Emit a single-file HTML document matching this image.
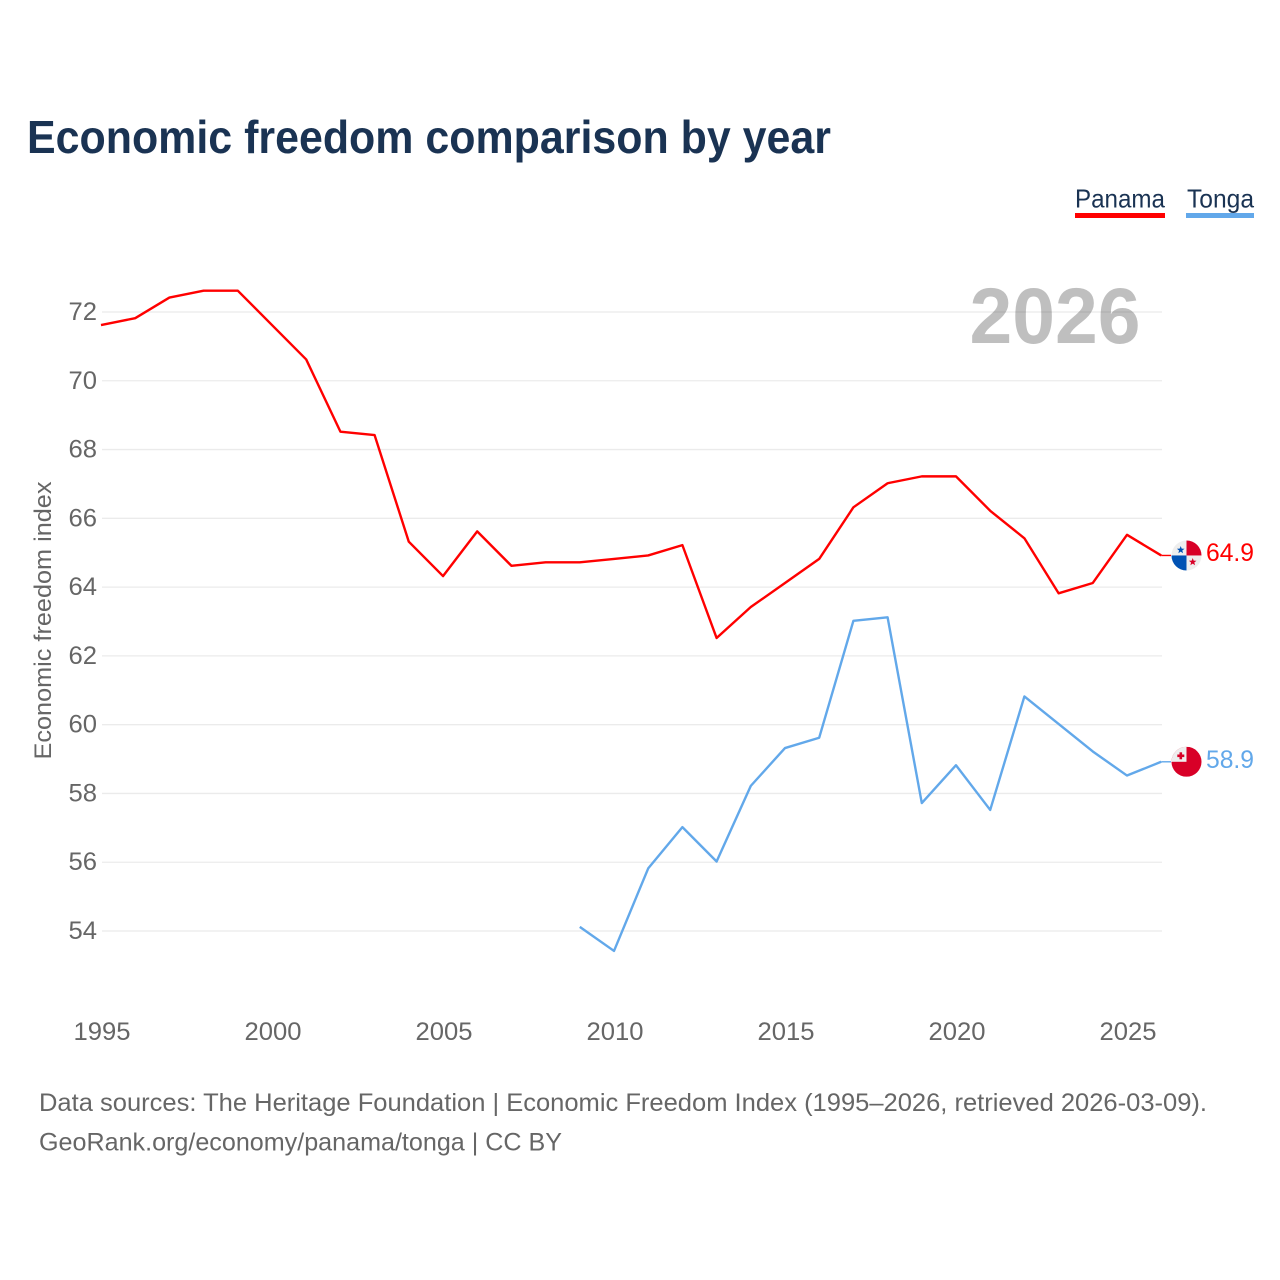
<!DOCTYPE html>
<html lang="en">
<head>
<meta charset="utf-8">
<title>Economic freedom comparison by year</title>
<style>
html,body{margin:0;padding:0;background:#fff;width:1280px;height:1280px;overflow:hidden}
svg{display:block}
text{font-family:"Liberation Sans",sans-serif}
</style>
</head>
<body>
<svg id="chart" width="1280" height="1280" viewBox="0 0 1280 1280" xmlns="http://www.w3.org/2000/svg">
  <defs>
    <clipPath id="flag-clip"><circle cx="0" cy="0" r="15"/></clipPath>
  </defs>
  <text x="27" y="153" font-size="46" font-weight="700" fill="#1a3353" textLength="804" lengthAdjust="spacingAndGlyphs">Economic freedom comparison by year</text>

  <g>
    <text x="1075" y="207.5" font-size="26" fill="#1a3353" textLength="90" lengthAdjust="spacingAndGlyphs">Panama</text>
    <rect x="1075" y="213" width="90" height="5" fill="#ff0000"/>
  </g>
  <g>
    <text x="1187" y="207.5" font-size="26" fill="#1a3353" textLength="67" lengthAdjust="spacingAndGlyphs">Tonga</text>
    <rect x="1186" y="213" width="68" height="5" fill="#62a8ea"/>
  </g>

  <g id="grid"></g>
  <g id="y-ticks"></g>
  <g id="x-ticks"></g>

  <text x="1140.5" y="343" text-anchor="end" font-size="79" font-weight="700" fill="#000000" fill-opacity="0.25" textLength="171" lengthAdjust="spacingAndGlyphs">2026</text>

  <text transform="translate(51 620.5) rotate(-90)" text-anchor="middle" font-size="24" fill="#666666" textLength="278" lengthAdjust="spacingAndGlyphs">Economic freedom index</text>

  <g id="series" transform="translate(-1 -0.7)"></g>
  <g id="end-markers"></g>

  <text x="39" y="1111" font-size="25" fill="#666666" textLength="1168" lengthAdjust="spacingAndGlyphs">Data sources: The Heritage Foundation | Economic Freedom Index (1995–2026, retrieved 2026-03-09).</text>
  <text x="39" y="1150.5" font-size="25" fill="#666666" textLength="523" lengthAdjust="spacingAndGlyphs">GeoRank.org/economy/panama/tonga | CC BY</text>
</svg>
<script>
var years = [1995,1996,1997,1998,1999,2000,2001,2002,2003,2004,2005,2006,2007,2008,2009,2010,2011,2012,2013,2014,2015,2016,2017,2018,2019,2020,2021,2022,2023,2024,2025,2026];
var panamaValues = [71.6,71.8,72.4,72.6,72.6,71.6,70.6,68.5,68.4,65.3,64.3,65.6,64.6,64.7,64.7,64.8,64.9,65.2,62.5,63.4,64.1,64.8,66.3,67.0,67.2,67.2,66.2,65.4,63.8,64.1,65.5,64.9];
var tongaValues = [null,null,null,null,null,null,null,null,null,null,null,null,null,null,54.1,53.4,55.8,57.0,56.0,58.2,59.3,59.6,63.0,63.1,57.7,58.8,57.5,60.8,60.0,59.2,58.5,58.9];
var yTickLabels = [54,56,58,60,62,64,66,68,70,72];
var xTickLabels = [1995,2000,2005,2010,2015,2020,2025];

var NS = 'http://www.w3.org/2000/svg';
function xScale(year){ return 102 + (year - 1995) * (1128 - 102) / 30; }
function yScale(v){ return 931 - (v - 54) * (931 - 312) / 18; }
function make(tag, attrs, parent){
  var el = document.createElementNS(NS, tag);
  for (var k in attrs) el.setAttribute(k, attrs[k]);
  parent.appendChild(el);
  return el;
}

var grid = document.getElementById('grid');
var yTicks = document.getElementById('y-ticks');
yTickLabels.forEach(function(t){
  var line = make('line', {x1:102, x2:1162, y1:yScale(t), y2:yScale(t), stroke:'#ebebeb', 'stroke-width':1.3}, grid);
  
  
  var label = make('text', {x:97, y:yScale(t) + 8, 'text-anchor':'end', 'font-size':25, fill:'#666666', textLength:28.5, lengthAdjust:'spacingAndGlyphs'}, yTicks);
  
  
  label.textContent = t;
});

var xTicks = document.getElementById('x-ticks');
xTickLabels.forEach(function(t){
  var label = make('text', {x:xScale(t), y:1040, 'text-anchor':'middle', 'font-size':25, fill:'#666666', textLength:57, lengthAdjust:'spacingAndGlyphs'}, xTicks);
  
  
  label.textContent = t;
});

function pathFor(values){
  var pts = [];
  values.forEach(function(v, i){
    if (v !== null) pts.push(xScale(years[i]).toFixed(2) + ',' + yScale(v).toFixed(2));
  });
  return 'M' + pts.join('L');
}

var seriesGroup = document.getElementById('series');
var panamaLine = make('path', {d:pathFor(panamaValues), fill:'none', stroke:'#ff0000', 'stroke-width':2.4, 'stroke-linejoin':'round'}, seriesGroup);


var tongaLine = make('path', {d:pathFor(tongaValues), fill:'none', stroke:'#62a8ea', 'stroke-width':2.4, 'stroke-linejoin':'round'}, seriesGroup);



var markers = document.getElementById('end-markers');
function star(cx, cy, r, fill, parent){
  var p = [];
  for (var i = 0; i < 10; i++){
    var a = -Math.PI / 2 + i * Math.PI / 5;
    var rr = i % 2 ? r * 0.42 : r;
    p.push((cx + rr * Math.cos(a)).toFixed(2) + ',' + (cy + rr * Math.sin(a)).toFixed(2));
  }
  return make('polygon', {points:p.join(' '), fill:fill}, parent);
}

// Panama end marker
var panamaEnd = panamaValues[panamaValues.length - 1];
var py = yScale(panamaEnd) - 0.7;
var lastX = xScale(2026) - 1;
var pConn = make('line', {x1:lastX, x2:1171, y1:py, y2:py, stroke:'#ff0000', 'stroke-width':1.4}, markers);


var pFlag = make('g', {transform:'translate(1186.5 ' + py + ')', 'clip-path':'url(#flag-clip)'}, markers);


make('rect', {x:-15, y:-15, width:30, height:30, fill:'#eeeeee'}, pFlag);
make('rect', {x:0, y:-15, width:15, height:15, fill:'#d80027'}, pFlag);
make('rect', {x:-15, y:0, width:15, height:15, fill:'#0052b4'}, pFlag);
star(-5.8, -5.5, 4, '#0052b4', pFlag);
star(6.2, 6.5, 4, '#d80027', pFlag);
var pLabel = make('text', {x:1206, y:py + 5.7, 'font-size':25, fill:'#ff0000', textLength:48, lengthAdjust:'spacingAndGlyphs'}, markers);


pLabel.textContent = panamaEnd.toFixed(1);

// Tonga end marker
var tongaEnd = tongaValues[tongaValues.length - 1];
var ty = yScale(tongaEnd) - 0.7;
var tConn = make('line', {x1:lastX, x2:1171, y1:ty, y2:ty, stroke:'#62a8ea', 'stroke-width':1.4}, markers);


var tFlag = make('g', {transform:'translate(1186.5 ' + ty + ')', 'clip-path':'url(#flag-clip)'}, markers);


make('rect', {x:-15, y:-15, width:30, height:30, fill:'#d80027'}, tFlag);
make('rect', {x:-15, y:-15, width:15, height:15, fill:'#eeeeee'}, tFlag);
make('rect', {x:-7, y:-9.5, width:2.6, height:7, fill:'#d80027'}, tFlag);
make('rect', {x:-9.2, y:-7.3, width:7, height:2.6, fill:'#d80027'}, tFlag);
var tLabel = make('text', {x:1206, y:ty + 6.2, 'font-size':25, fill:'#62a8ea', textLength:48, lengthAdjust:'spacingAndGlyphs'}, markers);


tLabel.textContent = tongaEnd.toFixed(1);
</script>
</body>
</html>
